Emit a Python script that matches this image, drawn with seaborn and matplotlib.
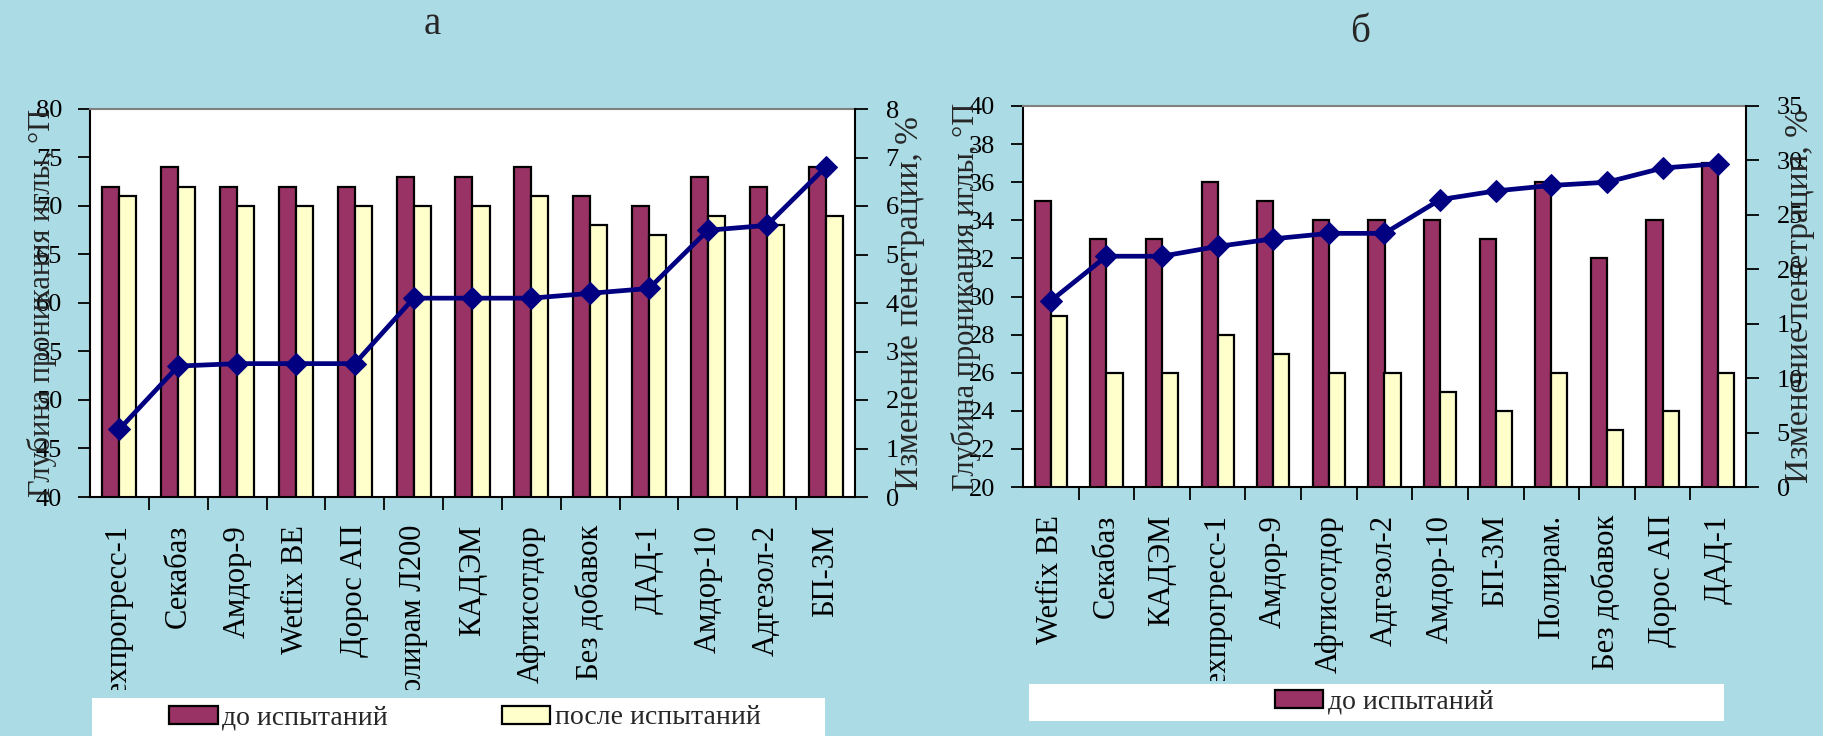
import numpy as np
import pandas as pd
import matplotlib
matplotlib.use("Agg")
import matplotlib.pyplot as plt
import seaborn as sns
from matplotlib.patches import Rectangle, Patch
from matplotlib.transforms import Bbox, TransformedBbox

# ---------------- data ----------------
cats_a = ["Техпрогресс-1", "Секабаз", "Амдор-9", "Wetfix BE", "Дорос АП", "Полирам Л200",
          "КАДЭМ", "Афтисотдор", "Без добавок", "ДАД-1", "Амдор-10", "Адгезол-2", "БП-3М"]
before_a = [72, 74, 72, 72, 72, 73, 73, 74, 71, 70, 73, 72, 74]
after_a = [71, 72, 70, 70, 70, 70, 70, 71, 68, 67, 69, 68, 69]
change_a = [1.4, 2.7, 2.75, 2.75, 2.75, 4.1, 4.1, 4.1, 4.2, 4.3, 5.5, 5.6, 6.8]

cats_b = ["Wetfix BE", "Секабаз", "КАДЭМ", "Техпрогресс-1", "Амдор-9", "Афтисотдор",
          "Адгезол-2", "Амдор-10", "БП-3М", "Полирам.", "Без добавок", "Дорос АП", "ДАД-1"]
before_b = [35, 33, 33, 36, 35, 34, 34, 34, 33, 36, 32, 34, 37]
after_b = [29, 26, 26, 28, 27, 26, 26, 25, 24, 26, 23, 24, 26]
change_b = [17.1, 21.2, 21.2, 22.1, 22.8, 23.3, 23.3, 26.4, 27.2, 27.7, 28.0, 29.3, 29.7]

series_names = ["до испытаний", "после испытаний"]
yticks_a = [40, 45, 50, 55, 60, 65, 70, 75, 80]
y2ticks_a = [0, 1, 2, 3, 4, 5, 6, 7, 8]
yticks_b = [20, 22, 24, 26, 28, 30, 32, 34, 36, 38, 40]
y2ticks_b = [0, 5, 10, 15, 20, 25, 30, 35]

ylabel_left = "Глубина проникания иглы, °П"
ylabel_right = "Изменение пенетрации, %"

# ---------------- style ----------------
W, H = 1823, 736
BG = "#abdbe5"
MAROON = "#993366"
CREAM = "#ffffcc"
NAVY = "#000080"
SERIF = ["Liberation Serif", "DejaVu Serif"]

sns.set_theme(style="ticks")
plt.rcParams["font.family"] = SERIF
plt.rcParams["axes.unicode_minus"] = False
plt.rcParams.update({
    "xtick.major.size": 9, "ytick.major.size": 9,
    "xtick.minor.size": 9, "ytick.minor.size": 9,
    "xtick.major.width": 1.3, "ytick.major.width": 1.3,
    "xtick.minor.width": 1.3,
    "ytick.major.pad": 11, "xtick.major.pad": 20,
    "xtick.color": "black", "ytick.color": "black",
    "xtick.direction": "out", "ytick.direction": "out",
})

fig = plt.figure(figsize=(W / 100, H / 100), dpi=100)
fig.patch.set_facecolor(BG)

clip_jobs = []


def px(x0, y0, x1, y1):
    # pixel box (top-left origin) -> figure fraction rect
    return [x0 / W, 1 - y1 / H, (x1 - x0) / W, (y1 - y0) / H]


def panel(rect, cats, before, after, change, yt, y2t, clip_px, lab_left_x, lab_right_x):
    ax = fig.add_axes(rect)
    ax.set_facecolor("white")
    df = pd.DataFrame({
        "cat": cats * 2,
        "val": before + after,
        "series": [series_names[0]] * len(cats) + [series_names[1]] * len(cats),
    })
    sns.barplot(data=df, x="cat", y="val", hue="series", order=cats,
                hue_order=series_names,
                palette={series_names[0]: MAROON, series_names[1]: CREAM},
                edgecolor="black", linewidth=1.6, width=0.58, saturation=1,
                legend=False, ax=ax)
    ax.set_ylim(yt[0], yt[-1])
    ax.set_xlim(-0.5, len(cats) - 0.5)
    ax.set_yticks(yt)
    ax.set_yticklabels([str(v) for v in yt], fontsize=19, family=SERIF)
    ax.set_xlabel("")
    ax.set_ylabel("")
    ax.set_xticks(np.arange(len(cats)))
    ax.set_xticklabels(cats, rotation=90, fontsize=22, family=SERIF,
                       ha="center", va="top")
    ax.set_xticks(np.arange(0.5, len(cats) - 0.5, 1.0), minor=True)
    ax.tick_params(axis="x", which="major", length=0, pad=20)
    ax.tick_params(axis="x", which="minor", length=9, width=1.3, color="black",
                   direction="out", bottom=True)
    ax.tick_params(axis="y", which="major", length=9, width=1.3, color="black",
                   direction="out", left=True, right=False, pad=11)
    for s in ["left", "bottom"]:
        ax.spines[s].set_color("black")
        ax.spines[s].set_linewidth(1.5)
    ax.spines["top"].set_visible(True)
    ax.spines["top"].set_color("#808080")
    ax.spines["top"].set_linewidth(1.5)
    ax.spines["right"].set_visible(False)

    ax2 = ax.twinx()
    sns.lineplot(x=np.arange(len(cats)), y=change, ax=ax2, color=NAVY, linewidth=3.4,
                 marker="D", markersize=11, markeredgecolor=NAVY, markerfacecolor=NAVY,
                 sort=False)
    ax2.set_ylim(y2t[0], y2t[-1])
    ax2.set_yticks(y2t)
    ax2.set_yticklabels([str(v) for v in y2t], fontsize=19, family=SERIF)
    ax2.tick_params(axis="y", which="major", length=9, width=1.3, color="black",
                    direction="out", right=True, left=False, pad=13)
    ax2.set_ylabel("")
    ax2.set_xlabel("")
    ax2.xaxis.set_visible(False)
    ax2.grid(False)
    ax.grid(False)
    ax2.spines["right"].set_visible(True)
    ax2.spines["right"].set_color("black")
    ax2.spines["right"].set_linewidth(1.5)
    for s in ["left", "bottom", "top"]:
        ax2.spines[s].set_visible(False)

    clip = TransformedBbox(Bbox.from_extents(rect[0] - 0.03, 1 - clip_px / H,
                                             rect[0] + rect[2] + 0.03, rect[1]),
                           fig.transFigure)
    clip_jobs.append((ax, clip))

    ymid = rect[1] + rect[3] / 2
    fig.text(lab_left_x / W, ymid, ylabel_left, rotation=90, ha="center", va="center",
             fontsize=22, family=SERIF)
    fig.text(lab_right_x / W, ymid, ylabel_right, rotation=90, ha="center", va="center",
             fontsize=24, family=SERIF)
    return ax, ax2


panel(px(90, 109, 855, 497), cats_a, before_a, after_a, change_a,
      yticks_a, y2ticks_a, 690, 42, 910)
panel(px(1023, 106, 1746, 487), cats_b, before_b, after_b, change_b,
      yticks_b, y2ticks_b, 681, 966, 1800)

fig.text(432 / W, 1 - 24 / H, "а", fontsize=28, family=SERIF, ha="center", va="center")
fig.text(1360 / W, 1 - 33 / H, "б", fontsize=28, family=SERIF, ha="center", va="center")

# legend boxes
fig.patches.append(Rectangle((92 / W, 0), (825 - 92) / W, (736 - 698) / H,
                             transform=fig.transFigure, facecolor="white",
                             edgecolor="none", zorder=5))
fig.patches.append(Rectangle((1029 / W, 1 - 721 / H), (1724 - 1029) / W, (721 - 684) / H,
                             transform=fig.transFigure, facecolor="white",
                             edgecolor="none", zorder=5))

h1 = Patch(facecolor=MAROON, edgecolor="black", linewidth=1.6, label=series_names[0])
h2 = Patch(facecolor=CREAM, edgecolor="black", linewidth=1.6, label=series_names[1])
leg1 = fig.legend(handles=[h1, h2], loc="center", bbox_to_anchor=(465 / W, 1 - 718 / H),
                  ncol=2, frameon=False, handlelength=1.75, handleheight=0.6,
                  handletextpad=0.15, columnspacing=4.1, borderpad=0,
                  prop={"family": SERIF, "size": 20})
leg1.set_zorder(6)
leg2 = fig.legend(handles=[h1], loc="center", bbox_to_anchor=(1384 / W, 1 - 702 / H),
                  ncol=1, frameon=False, handlelength=1.75, handleheight=0.6,
                  handletextpad=0.15, borderpad=0,
                  prop={"family": SERIF, "size": 20})
leg2.set_zorder(6)

# clip the long category labels above the legend, as in the original
for ax, clip in clip_jobs:
    for lab in ax.get_xticklabels():
        lab.set_clip_on(True)
        lab.set_clip_box(clip)

fig.savefig("out.png", dpi=100, facecolor=BG)
